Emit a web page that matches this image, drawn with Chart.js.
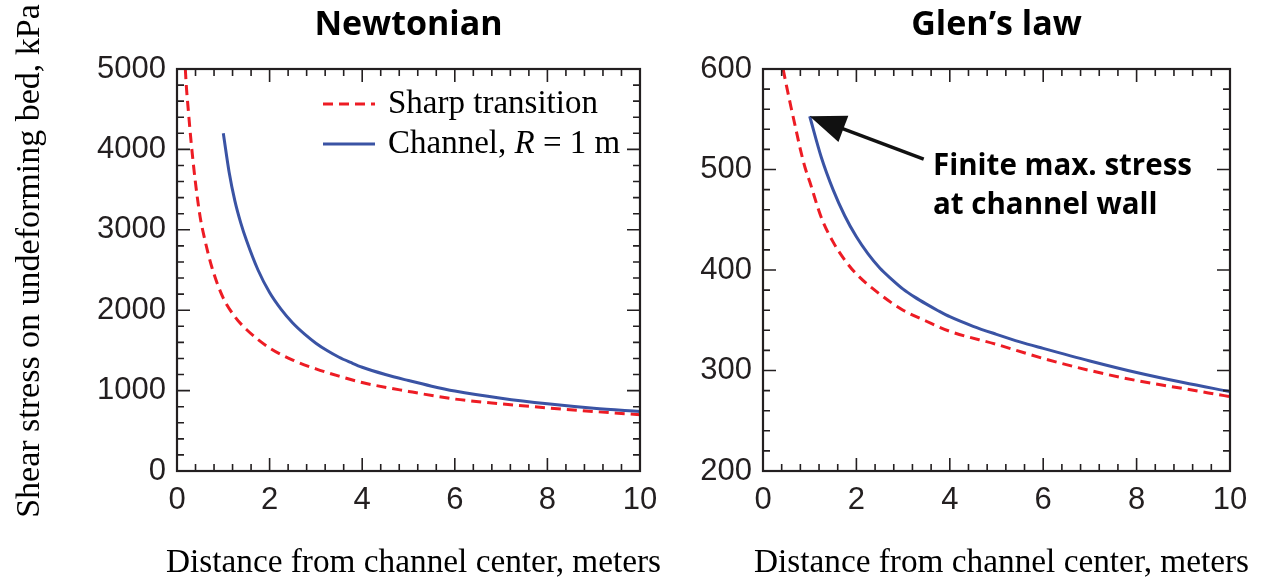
<!DOCTYPE html>
<html>
<head>
<meta charset="utf-8">
<script src="https://cdn.jsdelivr.net/npm/chart.js@4"></script>
<style>
  body { margin: 0; background: #fff; }
  #wrap { position: relative; width: 1262px; height: 584px; overflow: hidden; }
  #newton { position: absolute; left: 0; top: 0; }
  #glen { position: absolute; left: 655px; top: 0; }
</style>
</head>
<body>
<div id="wrap">
  <canvas id="newton" width="680" height="584"></canvas>
  <canvas id="glen" width="607" height="584"></canvas>
</div>
<script>
// data (distance in m, stress in kPa)
const newtonSharpDist = [0.18, 0.2, 0.25, 0.3, 0.4, 0.5, 0.6, 0.75, 1, 1.25, 1.5, 2, 2.5, 3, 3.5, 4, 5, 6, 7, 8, 9, 10];
const newtonSharpStress = [5000, 4800, 4450, 4120, 3580, 3160, 2880, 2540, 2150, 1920, 1760, 1530, 1380, 1270, 1180, 1100, 990, 895, 835, 785, 740, 700];

const newtonChannelDist = [1, 1.125, 1.25, 1.375, 1.5, 1.75, 2, 2.25, 2.5, 2.75, 3, 3.25, 3.5, 3.75, 4, 4.5, 5, 5.5, 6, 7, 8, 9, 10];
const newtonChannelStress = [4200, 3720, 3360, 3090, 2870, 2500, 2220, 2010, 1840, 1705, 1590, 1495, 1415, 1350, 1290, 1200, 1125, 1055, 995, 905, 835, 780, 740];

const glenSharpDist = [0.43, 0.5, 0.6, 0.7, 0.8, 0.9, 1, 1.25, 1.5, 1.75, 2, 2.5, 3, 3.5, 4, 5, 6, 7, 8, 9, 10];
const glenSharpStress = [600, 584, 562, 541, 520, 502, 488, 452, 428, 410, 396, 376, 360, 349, 339, 326, 312, 300, 290, 282, 274];

const glenChannelDist = [1, 1.25, 1.5, 1.75, 2, 2.25, 2.5, 2.75, 3, 3.25, 3.5, 3.75, 4, 4.5, 5, 5.5, 6, 7, 8, 9, 10];
const glenChannelStress = [553, 512, 480, 454, 433, 416, 402, 391, 381, 373, 366, 359.5, 353.5, 344, 336, 328.5, 322, 309.5, 298, 288, 279];

// tick labels
const distTicks = [0, 2, 4, 6, 8, 10];
const newtonStressTicks = [0, 1000, 2000, 3000, 4000, 5000];
const glenStressTicks = [200, 300, 400, 500, 600];

const xAxisLabel = 'Distance from channel center, meters';
const yAxisLabel = 'Shear stress on undeforming bed, kPa';

const RED = '#ed1c24';
const BLUE = '#3a53a4';
const INK = '#231f20';

function pts(xs, ys) {
  return xs.map((x, i) => ({ x: x, y: ys[i] }));
}

// minor tick positions between min and max
function minorTicks(min, max, step) {
  const out = [];
  const n = Math.round((max - min) / step);
  for (let i = 0; i <= n; i++) out.push(+(min + i * step).toFixed(4));
  return out;
}

// box frame with inward ticks on all four sides
const frameTicks = {
  id: 'frameTicks',
  afterDatasetsDraw(chart, args, opts) {
    const { ctx, chartArea: a, scales } = chart;
    const xs = scales.x, ys = scales.y;
    ctx.save();
    ctx.strokeStyle = INK;
    ctx.lineWidth = 1.6;
    ctx.beginPath();
    const xTick = (v, len) => {
      const p = xs.getPixelForValue(v);
      ctx.moveTo(p, a.bottom); ctx.lineTo(p, a.bottom - len);
      ctx.moveTo(p, a.top); ctx.lineTo(p, a.top + len);
    };
    const yTick = (v, len) => {
      const p = ys.getPixelForValue(v);
      ctx.moveTo(a.left, p); ctx.lineTo(a.left + len, p);
      ctx.moveTo(a.right, p); ctx.lineTo(a.right - len, p);
    };
    opts.xMinor.forEach(v => xTick(v, 7));
    opts.yMinor.forEach(v => yTick(v, 7));
    xs.ticks.forEach(t => xTick(t.value, 13));
    ys.ticks.forEach(t => yTick(t.value, 13));
    ctx.stroke();
    ctx.lineWidth = 2.2;
    ctx.strokeRect(a.left, a.top, a.right - a.left, a.bottom - a.top);
    ctx.restore();
  }
};

// axis titles drawn by hand so they are not squeezed to the plot width
const axisTitles = {
  id: 'axisTitles',
  afterDraw(chart, args, opts) {
    const { ctx, chartArea: a } = chart;
    ctx.save();
    ctx.fillStyle = '#000';
    ctx.textAlign = 'center';
    ctx.textBaseline = 'middle';
    ctx.font = '33.3px "Liberation Serif", "Times New Roman", serif';
    ctx.fillText(xAxisLabel, (a.left + a.right) / 2 + 5, 563);
    if (opts.showY) {
      ctx.font = '34px "Liberation Serif", "Times New Roman", serif';
      ctx.translate(30, (a.top + a.bottom) / 2 - 9);
      ctx.rotate(-Math.PI / 2);
      ctx.fillText(yAxisLabel, 0, 0);
    }
    ctx.restore();
  }
};

const legendBox = {
  id: 'legendBox',
  afterDraw(chart) {
    const { ctx, chartArea: a } = chart;
    const x0 = a.left + 146, x1 = a.left + 198, tx = a.left + 211;
    const r1 = a.top + 35, r2 = a.top + 75;
    ctx.save();
    ctx.lineWidth = 3;
    ctx.strokeStyle = RED;
    ctx.setLineDash([10, 6]);
    ctx.beginPath(); ctx.moveTo(x0, r1); ctx.lineTo(x1, r1); ctx.stroke();
    ctx.setLineDash([]);
    ctx.strokeStyle = BLUE;
    ctx.beginPath(); ctx.moveTo(x0, r2); ctx.lineTo(x1, r2); ctx.stroke();

    ctx.fillStyle = '#000';
    ctx.textBaseline = 'middle';
    ctx.textAlign = 'left';
    const serif = '33px "Liberation Serif", "Times New Roman", serif';
    ctx.font = serif;
    ctx.fillText('Sharp transition', tx, r1);
    let x = tx;
    ctx.fillText('Channel, ', x, r2);
    x += ctx.measureText('Channel, ').width;
    ctx.font = 'italic ' + serif;
    ctx.fillText('R', x, r2);
    x += ctx.measureText('R').width;
    ctx.font = serif;
    ctx.fillText(' = 1 m', x, r2);
    ctx.restore();
  }
};

const wallNote = {
  id: 'wallNote',
  afterDraw(chart) {
    const { ctx, chartArea: a, scales } = chart;
    const tipX = scales.x.getPixelForValue(glenChannelDist[0]);
    const tipY = scales.y.getPixelForValue(glenChannelStress[0]);
    const dx = 114, dy = 43;
    const len = Math.hypot(dx, dy);
    const ux = dx / len, uy = dy / len;
    ctx.save();
    ctx.strokeStyle = '#111';
    ctx.fillStyle = '#111';
    ctx.lineWidth = 3.5;
    ctx.beginPath();
    ctx.moveTo(tipX + ux * 28, tipY + uy * 28);
    ctx.lineTo(tipX + dx, tipY + dy);
    ctx.stroke();
    const bx = tipX + ux * 36, by = tipY + uy * 36;
    ctx.beginPath();
    ctx.moveTo(tipX, tipY);
    ctx.lineTo(bx - uy * 14, by + ux * 14);
    ctx.lineTo(bx + uy * 14, by - ux * 14);
    ctx.closePath();
    ctx.fill();

    ctx.fillStyle = '#000';
    ctx.font = 'bold 29.5px "Open Sans", sans-serif';
    ctx.textAlign = 'left';
    ctx.textBaseline = 'alphabetic';
    ctx.fillText('Finite max. stress', a.left + 170, a.top + 106);
    ctx.fillText('at channel wall', a.left + 170, a.top + 145);
    ctx.restore();
  }
};

const tickFont = { family: '"Liberation Sans", Arial, sans-serif', size: 31 };

function makeChart(id, cfg) {
  return new Chart(document.getElementById(id), {
    type: 'line',
    data: {
      datasets: [
        {
          label: 'Channel, R = 1 m',
          data: pts(cfg.chanX, cfg.chanY),
          borderColor: BLUE,
          borderWidth: 3,
          pointRadius: 0,
          fill: false,
          cubicInterpolationMode: 'monotone'
        },
        {
          label: 'Sharp transition',
          data: pts(cfg.sharpX, cfg.sharpY),
          borderColor: RED,
          borderWidth: 3,
          borderDash: [10, 6],
          pointRadius: 0,
          fill: false,
          cubicInterpolationMode: 'monotone'
        }
      ]
    },
    options: {
      responsive: false,
      animation: false,
      events: [],
      layout: { padding: { left: 0, right: cfg.padRight, top: 0, bottom: 0 } },
      plugins: {
        legend: { display: false },
        tooltip: { enabled: false },
        title: {
          display: true,
          text: cfg.title,
          fullSize: false,
          color: '#000',
          font: { family: '"Open Sans", sans-serif', size: 34, weight: 'bold' },
          padding: { top: 5, bottom: 23.2 }
        },
        frameTicks: { xMinor: cfg.xMinor, yMinor: cfg.yMinor },
        axisTitles: { showY: cfg.showYTitle }
      },
      scales: {
        x: {
          type: 'linear',
          min: 0, max: 10,
          afterBuildTicks: s => { s.ticks = distTicks.map(v => ({ value: v })); },
          afterFit: s => { s.height = 113; s.paddingLeft = 0; s.paddingRight = 0; },
          grid: { display: false, drawTicks: false },
          border: { display: false },
          ticks: { font: tickFont, color: INK, padding: 11, maxRotation: 0, autoSkip: false, callback: v => String(v) }
        },
        y: {
          type: 'linear',
          min: cfg.yMin, max: cfg.yMax,
          afterBuildTicks: s => { s.ticks = cfg.yTicks.map(v => ({ value: v })); },
          afterFit: s => { s.width = cfg.yWidth; },
          grid: { display: false, drawTicks: false },
          border: { display: false },
          ticks: { font: tickFont, color: INK, padding: 11, autoSkip: false, callback: v => String(v) }
        }
      }
    },
    plugins: cfg.plugins
  });
}

makeChart('newton', {
  title: 'Newtonian',
  sharpX: newtonSharpDist, sharpY: newtonSharpStress,
  chanX: newtonChannelDist, chanY: newtonChannelStress,
  yMin: 0, yMax: 5000, yTicks: newtonStressTicks,
  xMinor: minorTicks(0, 10, 0.4), yMinor: minorTicks(0, 5000, 200),
  yWidth: 177, padRight: 40,
  showYTitle: true,
  plugins: [frameTicks, axisTitles, legendBox]
});

makeChart('glen', {
  title: 'Glen\u2019s law',
  sharpX: glenSharpDist, sharpY: glenSharpStress,
  chanX: glenChannelDist, chanY: glenChannelStress,
  yMin: 200, yMax: 600, yTicks: glenStressTicks,
  xMinor: minorTicks(0, 10, 0.4), yMinor: minorTicks(200, 600, 20),
  yWidth: 108, padRight: 32,
  showYTitle: false,
  plugins: [frameTicks, axisTitles, wallNote]
});
</script>
</body>
</html>
